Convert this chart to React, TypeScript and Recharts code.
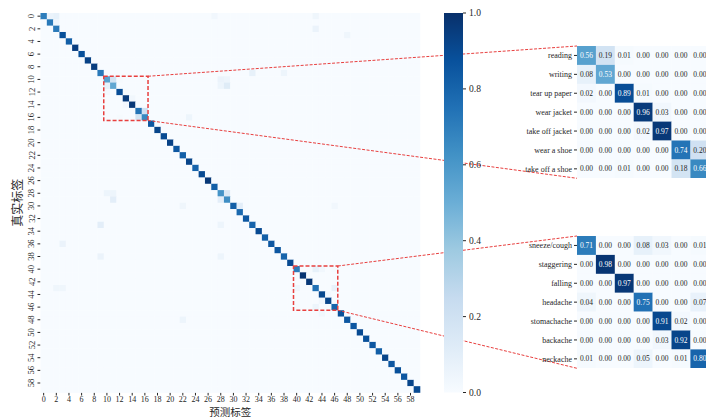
import React from 'react';
import { ScatterChart, Scatter, XAxis, YAxis, ReferenceArea, BarChart, Bar } from 'recharts';

// diagonal of the 60x60 confusion matrix (recall per class)
const diagonal = [
  0.70, 0.72, 0.72, 0.88, 0.82, 0.95, 0.88, 0.93, 0.95, 0.72,
  0.56, 0.53, 0.89, 0.96, 0.97, 0.74, 0.66,
  0.85, 0.92, 0.90, 0.93, 0.85, 0.82, 0.92, 0.80, 0.90, 0.97, 0.82, 0.62, 0.64,
  0.82, 0.78, 0.85, 0.80, 0.90, 0.82, 0.85, 0.85, 0.80, 0.90,
  0.71, 0.98, 0.97, 0.75, 0.91, 0.92, 0.80,
  0.88, 0.85, 0.85, 0.90, 0.88, 0.85, 0.82, 0.92, 0.85, 0.88, 0.85, 0.92, 0.90,
];

// visible off-diagonal cells: [true, predicted, value]
const offDiagonal: [number, number, number][] = [
  [0, 1, 0.06], [0, 2, 0.08], [1, 2, 0.05], [0, 27, 0.03], [0, 43, 0.04], [2, 43, 0.06],
  [3, 48, 0.04], [9, 33, 0.08], [9, 38, 0.05], [10, 28, 0.06], [10, 29, 0.05],
  [11, 28, 0.05], [11, 29, 0.12], [16, 23, 0.05], [28, 10, 0.05], [28, 11, 0.05],
  [28, 29, 0.15], [29, 28, 0.1], [29, 11, 0.1], [30, 22, 0.04], [30, 31, 0.1],
  [30, 46, 0.03], [33, 9, 0.1], [33, 28, 0.05], [36, 3, 0.06], [38, 9, 0.06],
  [38, 28, 0.05], [43, 2, 0.04], [43, 3, 0.04], [47, 44, 0.03], [48, 22, 0.05],
];

const labelsA = ['reading', 'writing', 'tear up paper', 'wear jacket', 'take off jacket', 'wear a shoe', 'take off a shoe'];
const blockA = [
  [0.56, 0.19, 0.01, 0.00, 0.00, 0.00, 0.00],
  [0.08, 0.53, 0.00, 0.00, 0.00, 0.00, 0.00],
  [0.02, 0.00, 0.89, 0.01, 0.00, 0.00, 0.00],
  [0.00, 0.00, 0.00, 0.96, 0.03, 0.00, 0.00],
  [0.00, 0.00, 0.00, 0.02, 0.97, 0.00, 0.00],
  [0.00, 0.00, 0.00, 0.00, 0.00, 0.74, 0.20],
  [0.00, 0.00, 0.01, 0.00, 0.00, 0.18, 0.66],
];

const labelsB = ['sneeze/cough', 'staggering', 'falling', 'headache', 'stomachache', 'backache', 'neckache'];
const blockB = [
  [0.71, 0.00, 0.00, 0.08, 0.03, 0.00, 0.01],
  [0.00, 0.98, 0.00, 0.00, 0.00, 0.00, 0.00],
  [0.00, 0.00, 0.97, 0.00, 0.00, 0.00, 0.00],
  [0.04, 0.00, 0.00, 0.75, 0.00, 0.00, 0.07],
  [0.00, 0.00, 0.00, 0.00, 0.91, 0.02, 0.00],
  [0.00, 0.00, 0.00, 0.00, 0.03, 0.92, 0.00],
  [0.01, 0.00, 0.00, 0.05, 0.00, 0.01, 0.80],
];

const mainTicks = [0, 2, 4, 6, 8, 10, 12, 14, 16, 18, 20, 22, 24, 26, 28, 30, 32, 34, 36, 38, 40, 42, 44, 46, 48, 50, 52, 54, 56, 58];
const colorbarTicks = [0, 0.2, 0.4, 0.6, 0.8, 1.0];
const blockStartA = 10;
const blockStartB = 40;

// matplotlib "Blues"
const BLUES = ['#f7fbff', '#deebf7', '#c6dbef', '#9ecae1', '#6baed6', '#4292c6', '#2171b5', '#08519c', '#08306b'];
const hexRgb = (h: string) => [1, 3, 5].map((i) => parseInt(h.slice(i, i + 2), 16));
const bluesRgb = (v: number) => {
  const t = Math.max(0, Math.min(1, v)) * (BLUES.length - 1);
  const i = Math.min(Math.floor(t), BLUES.length - 2);
  const f = t - i;
  const a = hexRgb(BLUES[i]);
  const b = hexRgb(BLUES[i + 1]);
  return a.map((c, k) => Math.round(c + (b[k] - c) * f));
};
const blues = (v: number) => `rgb(${bluesRgb(v).join(',')})`;
const textColor = (v: number) => {
  const lin = bluesRgb(v).map((c) => {
    const s = c / 255;
    return s <= 0.03928 ? s / 12.92 : Math.pow((s + 0.055) / 1.055, 2.4);
  });
  const lum = 0.2126 * lin[0] + 0.7152 * lin[1] + 0.0722 * lin[2];
  return lum > 0.408 ? '#262626' : '#ffffff';
};

// build the full matrix
const N = diagonal.length;
const matrix: number[][] = Array.from({ length: N }, () => new Array(N).fill(0));
diagonal.forEach((v, i) => { matrix[i][i] = v; });
offDiagonal.forEach(([r, c, v]) => { matrix[r][c] = v; });
[[blockStartA, blockA], [blockStartB, blockB]].forEach(([s, blk]: any) => {
  blk.forEach((row: number[], r: number) => row.forEach((v, c) => { matrix[s + r][s + c] = v; }));
});
const mainCells = matrix.flatMap((row, r) => row.map((v, c) => ({ x: c, y: r, v })));
const toCells = (blk: number[][]) => blk.flatMap((row, r) => row.map((v, c) => ({ x: c, y: r, v })));

// layout
const MX = 40.5;
const MY = 13;
const MS = 379.5;
const CELL = MS / N;
const INSET_X = 577;
const INSET_CELL = 18.9;
const INSET_SIZE = INSET_CELL * 7;
const INSET_A_TOP = 46;
const INSET_B_TOP = 236;
const RED = '#e8403f';
const FONT = '"Liberation Serif", "Times New Roman", serif';
const INK = '#262626';

const RotTick = ({ x, y, payload }: any) => (
  <text x={x - 1} y={y} transform={`rotate(-90 ${x - 1} ${y})`} textAnchor="middle" fontSize={8.5} fill={INK}>
    {payload.value}
  </text>
);

const MainHeatmap = () => (
  <ScatterChart width={MX + MS + 10} height={419} margin={{ top: MY, right: 10, bottom: 0, left: 0 }}>
    <XAxis
      type="number" dataKey="x" domain={[-0.5, N - 0.5]} ticks={mainTicks} interval={0}
      height={419 - MY - MS} axisLine={false} tickSize={3} tickMargin={1}
      tick={{ fontSize: 8, fill: INK }} tickLine={{ stroke: INK }}
      label={{
        content: ({ viewBox }: any) => (
          <text x={viewBox.x + viewBox.width / 2} y={416} textAnchor="middle" fontSize={10.5} fill={INK}
            fontFamily='"Noto Sans CJK SC", sans-serif'>预测标签</text>
        ),
      }}
    />
    <YAxis
      type="number" dataKey="y" domain={[-0.5, N - 0.5]} reversed ticks={mainTicks} interval={0}
      width={MX} axisLine={false} tickSize={3} tickMargin={2} tick={<RotTick />} tickLine={{ stroke: INK }}
      label={{
        content: ({ viewBox }: any) => {
          const cx = 18;
          const cy = viewBox.y + viewBox.height / 2;
          return (
            <text x={cx} y={cy} transform={`rotate(-90 ${cx} ${cy})`} textAnchor="middle" dy="0.35em"
              fontSize={12} fill={INK} fontFamily='"Noto Sans CJK SC", sans-serif'>真实标签</text>
          );
        },
      }}
    />
    <Scatter
      data={mainCells}
      isAnimationActive={false}
      shape={(p: any) => (
        <rect x={p.cx - CELL / 2} y={p.cy - CELL / 2} width={CELL + 0.3} height={CELL + 0.3} fill={blues(p.payload.v)} />
      )}
    />
  </ScatterChart>
);

const ColorBar = () => (
  <BarChart width={60} height={419} data={[{ k: 'cb', v: 1 }]} margin={{ top: MY, right: 0, bottom: 419 - MY - MS, left: 0 }}
    barCategoryGap={0}>
    <defs>
      <linearGradient id="cbGrad" x1="0" y1="1" x2="0" y2="0">
        {BLUES.map((c, i) => <stop key={c} offset={i / (BLUES.length - 1)} stopColor={c} />)}
      </linearGradient>
    </defs>
    <XAxis dataKey="k" hide />
    <YAxis orientation="right" domain={[0, 1]} ticks={colorbarTicks} interval={0} width={41}
      axisLine={false} tickSize={3} tickMargin={3} tickFormatter={(v: number) => v.toFixed(1)}
      tick={{ fontSize: 9.5, fill: INK }} tickLine={{ stroke: INK }} />
    <Bar dataKey="v" fill="url(#cbGrad)" isAnimationActive={false} />
  </BarChart>
);

const Inset = ({ labels, block }: { labels: string[]; block: number[][] }) => {
  const yW = INSET_X - 480;
  return (
    <ScatterChart width={yW + INSET_SIZE} height={INSET_SIZE} margin={{ top: 0, right: 0, bottom: 0, left: 0 }}>
      <XAxis type="number" dataKey="x" domain={[-0.5, 6.5]} hide />
      <YAxis type="number" dataKey="y" domain={[-0.5, 6.5]} reversed ticks={[0, 1, 2, 3, 4, 5, 6]} interval={0}
        width={yW} axisLine={false} tickSize={3} tickMargin={2} tickFormatter={(v: number) => labels[v]}
        tick={{ fontSize: 8, fill: INK }} tickLine={{ stroke: INK }} />
      <Scatter
        data={toCells(block)}
        isAnimationActive={false}
        shape={(p: any) => (
          <g>
            <rect x={p.cx - INSET_CELL / 2} y={p.cy - INSET_CELL / 2} width={INSET_CELL + 0.2} height={INSET_CELL + 0.2}
              fill={blues(p.payload.v)} />
            <text x={p.cx} y={p.cy} dy="0.35em" textAnchor="middle" fontSize={7.5} fill={textColor(p.payload.v)}>
              {p.payload.v.toFixed(2)}
            </text>
          </g>
        )}
      />
    </ScatterChart>
  );
};

// zoom boxes on the main matrix, and connectors from box corners to inset corners
const boxes = [blockStartA, blockStartB].map((s) => ({ x1: MX + s * CELL, x2: MX + (s + 7) * CELL, y1: MY + s * CELL, y2: MY + (s + 7) * CELL }));
const insetTops = [INSET_A_TOP, INSET_B_TOP];
const links = boxes.flatMap((b, i) => [
  [{ x: b.x2, y: b.y1 }, { x: INSET_X, y: insetTops[i] }],
  [{ x: b.x2, y: b.y2 }, { x: INSET_X, y: insetTops[i] + INSET_SIZE }],
]);

const Connectors = () => (
  <ScatterChart width={706} height={419} margin={{ top: 0, right: 0, bottom: 0, left: 0 }}>
    <XAxis type="number" dataKey="x" domain={[0, 706]} hide height={0} />
    <YAxis type="number" dataKey="y" domain={[0, 419]} reversed hide width={0} />
    {boxes.map((b, i) => (
      <ReferenceArea key={`b${i}`} x1={b.x1} x2={b.x2} y1={b.y1} y2={b.y2}
        fill="none" fillOpacity={0} stroke={RED} strokeWidth={1.5} strokeDasharray="4 2" />
    ))}
    {links.map((pts, i) => (
      <Scatter key={i} data={pts} isAnimationActive={false} shape={() => <g />}
        line={{ stroke: RED, strokeWidth: 1, strokeDasharray: '3 1.5' }} />
    ))}
  </ScatterChart>
);

const App = () => (
  <div style={{ position: 'absolute', left: 0, top: 0, width: 706, height: 419, overflow: 'hidden', background: '#fff', fontFamily: FONT }}>
    <div style={{ position: 'absolute', left: 0, top: 0 }}><MainHeatmap /></div>
    <div style={{ position: 'absolute', left: 0, top: 0, pointerEvents: 'none' }}><Connectors /></div>
    <div style={{ position: 'absolute', left: 444, top: 0 }}><ColorBar /></div>
    <div style={{ position: 'absolute', left: 480, top: INSET_A_TOP }}><Inset labels={labelsA} block={blockA} /></div>
    <div style={{ position: 'absolute', left: 480, top: INSET_B_TOP }}><Inset labels={labelsB} block={blockB} /></div>
  </div>
);

export default App;
